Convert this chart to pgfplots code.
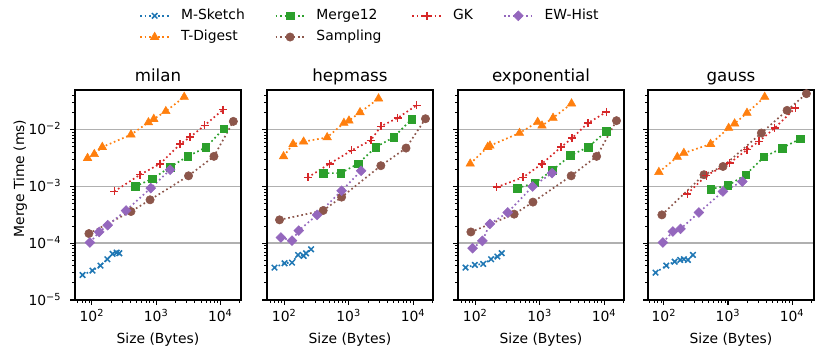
\documentclass[border=0pt]{standalone}
\usepackage{fontspec}
\setmainfont{DejaVu Sans}
\usepackage{pgfplots}
\pgfplotsset{compat=1.18}

\definecolor{c1}{HTML}{1F77B4}
\definecolor{c2}{HTML}{FF7F0E}
\definecolor{c3}{HTML}{2CA02C}
\definecolor{c4}{HTML}{D62728}
\definecolor{c5}{HTML}{9467BD}
\definecolor{c6}{HTML}{8C564B}
\definecolor{gridgray}{HTML}{B0B0B0}

\pgfplotsset{
  legend image code/.code={\draw[mark repeat=2, mark phase=2, #1]
    plot coordinates {(0pt,0pt) (10.4pt,0pt) (20.8pt,0pt)};},
}

\pgfplotsset{
  msk/.style={color=c1, line width=1.2pt, dash pattern=on 1.2pt off 2pt,
    mark=x, mark size=2.8pt, mark options={solid, line width=1.1pt}},
  tdg/.style={color=c2, line width=1.2pt, dash pattern=on 1.2pt off 2pt,
    mark=triangle*, mark size=3.5pt, mark options={solid, line width=0.4pt}},
  m12/.style={color=c3, line width=1.2pt, dash pattern=on 1.2pt off 2pt,
    mark=square*, mark size=2.7pt, mark options={solid, line width=0.4pt}},
  smp/.style={color=c6, line width=1.2pt, dash pattern=on 1.2pt off 2pt,
    mark=*, mark size=3.0pt, mark options={solid, line width=0.4pt}},
  gk/.style={color=c4, line width=1.2pt, dash pattern=on 1.2pt off 2pt,
    mark=+, mark size=2.9pt, mark options={solid, line width=1.1pt}},
  ewh/.style={color=c5, line width=1.2pt, dash pattern=on 1.2pt off 2pt,
    mark=square*, mark size=2.5pt, mark options={solid, rotate=45, line width=0.4pt}},
}

% settings shared by all four panels
\pgfplotsset{
  scale only axis, width=119.52pt, height=151.2pt,
  ymin=1e-5, ymax=0.05,
  xtick={100,1000,10000},
  xticklabels={10\textsuperscript{2},10\textsuperscript{3},10\textsuperscript{4}},
  minor xtick={60,70,80,90,200,300,400,500,600,700,800,900,
               2000,3000,4000,5000,6000,7000,8000,9000,20000},
  ytick={1e-5,1e-4,1e-3,1e-2},
  minor ytick={2e-5,3e-5,4e-5,5e-5,6e-5,7e-5,8e-5,9e-5,
               2e-4,3e-4,4e-4,5e-4,6e-4,7e-4,8e-4,9e-4,
               2e-3,3e-3,4e-3,5e-3,6e-3,7e-3,8e-3,9e-3,
               2e-2,3e-2,4e-2},
  tick align=outside, tick pos=left,
  major tick length=3.5pt, minor tick length=2pt,
  every tick/.style={black, line width=0.8pt},
  every minor tick/.style={black, line width=0.6pt},
  axis line style={line width=0.8pt},
  ymajorgrids, major grid style={color=gridgray, line width=1.1pt},
  tick label style={font=\fontsize{10}{12}\selectfont},
  xticklabel style={anchor=base, inner sep=0pt, yshift=-12.1pt},
  yticklabel style={anchor=base east, inner sep=0pt, xshift=-6.2pt, yshift=-3.8pt},
  every axis title/.style={at={(0.5,1)}, anchor=base, yshift=6pt,
    font=\fontsize{12}{14}\selectfont},
  every axis x label/.style={at={(0.5,0)}, anchor=base, yshift=-31.2pt,
    font=\fontsize{10}{12}\selectfont},
  every axis y label/.style={at={(-0.33,0.5786)},
    rotate=90, anchor=center, font=\fontsize{10}{12}\selectfont},
  clip=false,
}

\begin{document}
\begin{tikzpicture}

% milan
\begin{loglogaxis}[at={(0pt,0pt)}, anchor=south west, title={milan},
  xmin=54.5, xmax=21000,
  xlabel={Size (Bytes)},
  yticklabels={10\textsuperscript{−5},10\textsuperscript{−4},10\textsuperscript{−3},10\textsuperscript{−2}},
  ylabel={Merge Time (ms)},
  legend columns=4, legend cell align=left,
  legend style={draw=none, fill=none, at={(0.361,1.399)}, anchor=north west,
    font=\fontsize{10}{12}\selectfont, row sep=5.9pt,
    nodes={inner sep=0pt, text height=7.3pt, text depth=2.1pt},
    /tikz/every odd column/.append style={column sep=8pt},
    /tikz/every even column/.append style={column sep=21.6pt}},
]
\addplot[msk, forget plot] coordinates {(71.4,2.76e-5) (102,3.3e-5) (136,4.04e-5) (174,5.23e-5) (210,6.49e-5) (243,6.85e-5) (267,6.66e-5)};
\addplot[tdg, forget plot] coordinates {(85.5,3.16e-3) (109,3.7e-3) (145,4.94e-3) (406,8.17e-3) (759,1.345e-2) (920,1.54e-2) (1416,2.11e-2) (2738,3.77e-2)};
\addplot[m12, forget plot] coordinates {(475,1.0e-3) (877,1.37e-3) (1655,2.19e-3) (3090,3.39e-3) (5970,4.88e-3) (11270,1.04e-2)};
\addplot[smp, forget plot] coordinates {(89.8,1.48e-4) (406,3.62e-4) (805,5.82e-4) (3200,1.54e-3) (7960,3.39e-3) (15960,1.4e-2)};
\addplot[gk, forget plot] coordinates {(223,8.17e-4) (562,1.61e-3) (1155,2.51e-3) (2371,5.58e-3) (3398,7.43e-3) (5690,1.19e-2) (11000,2.25e-2)};
\addplot[ewh, forget plot] coordinates {(93,1.03e-4) (130,1.58e-4) (176,2.08e-4) (340,3.77e-4) (825,9.35e-4) (1655,1.97e-3)};
\addlegendimage{msk}\addlegendentry{M-Sketch}
\addlegendimage{m12}\addlegendentry{Merge12}
\addlegendimage{gk}\addlegendentry{GK}
\addlegendimage{ewh}\addlegendentry{EW-Hist}
\addlegendimage{tdg}\addlegendentry{T-Digest}
\addlegendimage{smp}\addlegendentry{Sampling}
\end{loglogaxis}

% hepmass
\begin{loglogaxis}[at={(138.24pt,0pt)}, anchor=south west, title={hepmass},
  xmin=54, xmax=20400, xlabel={Size (Bytes)}, yticklabels={}]
\addplot[msk] coordinates {(70.6,3.72e-5) (101,4.44e-5) (132,4.56e-5) (164,6.22e-5) (200,5.97e-5) (218,6.67e-5) (261,7.83e-5)};
\addplot[tdg] coordinates {(97.6,3.39e-3) (137,5.58e-3) (200,6.14e-3) (464,7.33e-3) (845,1.31e-2) (1011,1.44e-2) (1503,2.02e-2) (2911,3.53e-2)};
\addplot[m12] coordinates {(402,1.72e-3) (750,1.72e-3) (1400,2.51e-3) (2642,4.94e-3) (4990,7.33e-3) (9530,1.54e-2)};
\addplot[smp] coordinates {(84.5,2.58e-4) (402,3.77e-4) (778,6.49e-4) (3162,2.32e-3) (7780,4.74e-3) (15600,1.56e-2)};
\addplot[gk] coordinates {(232,1.44e-3) (505,2.51e-3) (1114,4.32e-3) (2208,6.48e-3) (3162,1.146e-2) (5760,1.61e-2) (11400,2.69e-2)};
\addplot[ewh] coordinates {(88.7,1.26e-4) (132,1.11e-4) (168,1.67e-4) (324,3.16e-4) (778,8.39e-4) (1560,1.89e-3)};
\end{loglogaxis}

% exponential
\begin{loglogaxis}[at={(275.76pt,0pt)}, anchor=south west, title={exponential},
  xmin=54, xmax=20400, xlabel={Size (Bytes)}, yticklabels={}]
\addplot[msk] coordinates {(70.7,3.72e-5) (98.8,4.15e-5) (133,4.32e-5) (176,5.23e-5) (221,5.82e-5) (258,6.67e-5)};
\addplot[tdg] coordinates {(83.5,2.51e-3) (156,4.94e-3) (169,5.22e-3) (487,8.73e-3) (931,1.365e-2) (1087,1.177e-2) (1615,1.61e-2) (3126,2.88e-2)};
\addplot[m12] coordinates {(453,9.35e-4) (836,1.15e-3) (1560,1.91e-3) (3015,3.52e-3) (5690,4.94e-3) (10870,9.35e-3)};
\addplot[smp] coordinates {(85.6,1.58e-4) (402,3.25e-4) (787,5.3e-4) (3090,1.54e-3) (7670,3.39e-3) (15600,1.44e-2)};
\addplot[gk] coordinates {(215,9.73e-4) (549,1.44e-3) (1087,2.51e-3) (2154,4.94e-3) (3200,7.13e-3) (5623,1.31e-2) (10870,2.05e-2)};
\addplot[ewh] coordinates {(90.9,8.17e-5) (129,1.1e-4) (169,2.19e-4) (320,3.48e-4) (778,1.0e-3) (1560,1.72e-3)};
\end{loglogaxis}

% gauss
\begin{loglogaxis}[at={(412.56pt,0pt)}, anchor=south west, title={gauss},
  xmin=56.5, xmax=22000, xlabel={Size (Bytes)}, yticklabels={}]
\addplot[msk] coordinates {(74.1,3.03e-5) (109,4.04e-5) (147,4.74e-5) (180,5.08e-5) (205,5.23e-5) (237,5.08e-5) (284,6.22e-5)};
\addplot[tdg] coordinates {(83.5,1.79e-3) (162,3.3e-3) (205,3.88e-3) (535,5.58e-3) (1024,1.07e-2) (1270,1.28e-2) (1980,1.97e-2) (3740,3.77e-2)};
\addplot[m12] coordinates {(535,8.97e-4) (1000,1.04e-3) (1888,1.61e-3) (3650,3.3e-3) (6980,4.74e-3) (13490,6.94e-3)};
\addplot[smp] coordinates {(93,3.16e-4) (422,1.61e-3) (836,2.25e-3) (3320,8.73e-3) (8360,2.19e-2) (16750,4.31e-2)};
\addplot[gk] coordinates {(232,7.43e-4) (459,1.56e-3) (1062,2.58e-3) (1980,4.44e-3) (3050,6.22e-3) (5360,1.07e-2) (11270,2.41e-2)};
\addplot[ewh] coordinates {(96.5,1.03e-4) (138,1.61e-4) (182,1.79e-4) (352,3.48e-4) (836,8.17e-4) (1675,1.22e-3)};
\end{loglogaxis}

\pgfresetboundingbox
\path (-54pt,-41.04pt) rectangle (543.6pt,216pt);
\end{tikzpicture}
\end{document}
